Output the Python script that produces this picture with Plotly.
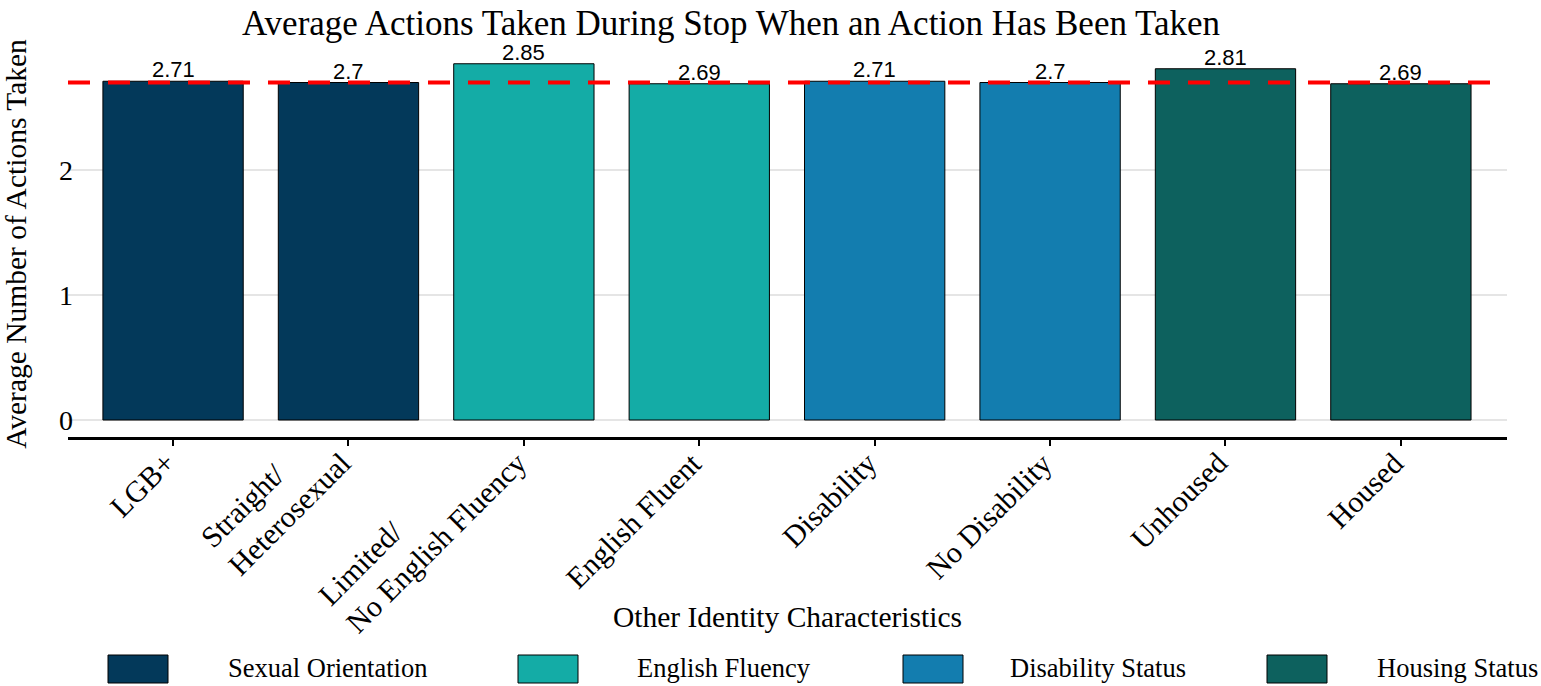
import plotly.graph_objects as go

categories = ["LGB+", "Straight/<br>Heterosexual", "Limited/<br>No English Fluency",
              "English Fluent", "Disability", "No Disability", "Unhoused", "Housed"]
values = [2.71, 2.70, 2.85, 2.69, 2.71, 2.70, 2.81, 2.69]
groups = ["Sexual Orientation", "Sexual Orientation", "English Fluency", "English Fluency",
          "Disability Status", "Disability Status", "Housing Status", "Housing Status"]
group_names = ["Sexual Orientation", "English Fluency", "Disability Status", "Housing Status"]
group_colors = {"Sexual Orientation": "#03395A", "English Fluency": "#14ACA6",
                "Disability Status": "#137DAF", "Housing Status": "#0D615E"}
overall_average = 2.70
y_ticks = [0, 1, 2]

SERIF = "Liberation Serif, Times New Roman, serif"
SANS = "Liberation Sans, Arial, sans-serif"

OFF = 0  # body margin is reset to 0 by the post script
W, H = 1541, 686
# plot area in page pixels
P_L, P_R, P_T, P_B = 68, 1507, 51, 437
L, R, T, B = P_L - OFF, W - (P_R - OFF), P_T - OFF, H - (P_B - OFF)
pw, ph = W - L - R, H - T - B


def px(x):
    return (x - OFF - L) / pw


def py(y):
    return (H - B - (y - OFF)) / ph


xpos = list(range(len(categories)))

fig = go.Figure()
fig.add_trace(go.Bar(
    x=xpos, y=values,
    marker=dict(color=[group_colors[g] for g in groups], line=dict(color="black", width=1)),
    width=0.8, showlegend=False,
))

# value labels above bars
for xi, v in zip(xpos, values):
    fig.add_annotation(x=xi, y=v, xref="x", yref="y", text=f"{v:g}", showarrow=False,
                       xanchor="center", yanchor="bottom", yshift=-3,
                       font=dict(family=SANS, size=22, color="black"))

# rotated category labels (left-aligned lines, last line ending at the tick)
TICK_FS = 30
for xi, lab in zip(xpos, categories):
    extra_lines = lab.count("<br>")
    fig.add_annotation(x=xi, y=0, xref="x", yref="paper", text=lab, showarrow=False,
                       textangle=-45, align="left", xanchor="right", yanchor="top",
                       xshift=11, yshift=-6 + 0.707 * 1.3 * TICK_FS * extra_lines,
                       font=dict(family=SERIF, size=TICK_FS, color="black"))

fig.add_shape(type="line", xref="paper", x0=0, x1=1, yref="y", y0=overall_average, y1=overall_average,
              line=dict(color="#FF0000", width=4, dash="22px,18px"), layer="above")

# legend drawn manually with large swatches
leg_sw_x = [108, 518, 903, 1267]
leg_txt_x = [226, 635, 1008, 1375]
for i, g in enumerate(group_names):
    fig.add_shape(type="rect", xref="paper", yref="paper",
                  x0=px(leg_sw_x[i]), x1=px(leg_sw_x[i] + 60), y0=py(683), y1=py(655),
                  fillcolor=group_colors[g], line=dict(color="black", width=1))
    fig.add_annotation(xref="paper", yref="paper", x=px(leg_txt_x[i]), y=py(668), text=g,
                       showarrow=False, xanchor="left", yanchor="middle",
                       font=dict(family=SERIF, size=26.5, color="black"))

fig.add_annotation(xref="paper", yref="paper", x=px(787), y=py(617), text="Other Identity Characteristics",
                   showarrow=False, xanchor="center", yanchor="middle",
                   font=dict(family=SERIF, size=29.5, color="black"))

fig.update_layout(
    width=W, height=H,
    margin=dict(l=L, r=R, t=T, b=B),
    paper_bgcolor="white", plot_bgcolor="white",
    title=dict(text="Average Actions Taken During Stop When an Action Has Been Taken",
               x=(731 - OFF) / W, xanchor="center", xref="container",
               y=1 - (23 - OFF) / H, yanchor="middle", yref="container",
               font=dict(family=SERIF, size=35, color="black")),
    xaxis=dict(tickmode="array", tickvals=xpos, showticklabels=False,
               range=[-0.599, 7.605], showgrid=False, zeroline=False,
               showline=True, linecolor="black", linewidth=2.5, ticks="outside", ticklen=6,
               tickcolor="black", tickwidth=2, automargin=False),
    yaxis=dict(range=[-0.136, 2.952], tickvals=y_ticks, showgrid=True, gridcolor="#E5E5E5", gridwidth=2,
               zeroline=False, showline=False, ticks="", ticklabelstandoff=-6,
               tickfont=dict(family=SERIF, size=28, color="black"),
               title=dict(text="Average Number of Actions Taken", standoff=33,
                          font=dict(family=SERIF, size=29.5, color="black")),
               automargin=False),
)

fig.write_html("out.html", config={"displayModeBar": False},
               post_script="document.body.style.margin='0';"
                           "document.documentElement.style.overflow='hidden';"
                           "document.body.style.overflow='hidden';")
